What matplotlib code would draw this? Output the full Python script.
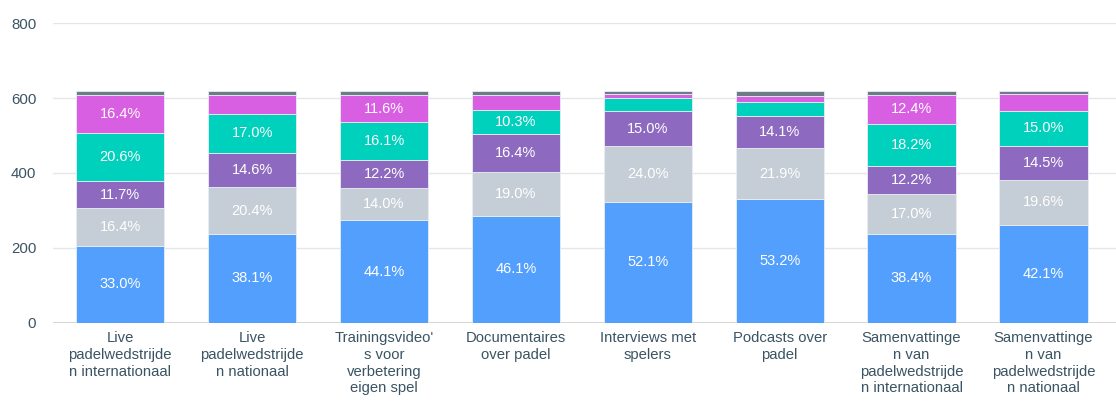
import numpy as np
import matplotlib.pyplot as plt

plt.rcParams['font.family'] = ['Liberation Sans', 'DejaVu Sans']

categories = [
    "Live\npadelwedstrijde\nn internationaal",
    "Live\npadelwedstrijde\nn nationaal",
    "Trainingsvideo'\ns voor\nverbetering\neigen spel",
    "Documentaires\nover padel",
    "Interviews met\nspelers",
    "Podcasts over\npadel",
    "Samenvattinge\nn van\npadelwedstrijde\nn internationaal",
    "Samenvattinge\nn van\npadelwedstrijde\nn nationaal",
]
total_n = 620

# percentage share per segment (bottom to top)
pct_blue = [33.0, 38.1, 44.1, 46.1, 52.1, 53.2, 38.4, 42.1]
pct_lightgray = [16.4, 20.4, 14.0, 19.0, 24.0, 21.9, 17.0, 19.6]
pct_purple = [11.7, 14.6, 12.2, 16.4, 15.0, 14.1, 12.2, 14.5]
pct_teal = [20.6, 17.0, 16.1, 10.3, 5.7, 6.0, 18.2, 15.0]
pct_magenta = [16.4, 8.0, 11.6, 6.2, 1.7, 2.3, 12.4, 7.2]
pct_darkgray = [1.9, 1.9, 2.0, 2.0, 1.5, 2.5, 1.8, 1.6]

series = [
    (pct_blue, "#529FFE"),
    (pct_lightgray, "#C5CED6"),
    (pct_purple, "#8D6ABF"),
    (pct_teal, "#00D1BD"),
    (pct_magenta, "#D95FE2"),
    (pct_darkgray, "#6B7C84"),
]

fig = plt.figure(figsize=(11.16, 4.01), dpi=100)
ax = fig.add_axes([53 / 1116, 78.3 / 401, 1063 / 1116, 299.4 / 401])

x = np.arange(len(categories))
bottom = np.zeros(len(categories))
for vals, color in series:
    counts = np.array(vals) / 100.0 * total_n
    ax.bar(x, counts, width=0.67, bottom=bottom, color=color,
           edgecolor="#e8eef5", linewidth=0.6, zorder=3)
    for xi, b, c, p in zip(x, bottom, counts, vals):
        if p >= 10:
            ax.text(xi, b + c / 2, f"{p:.1f}%", ha="center", va="center",
                    color="white", fontsize=10.5, zorder=4)
    bottom += counts

ax.set_xlim(-0.51, 7.55)
ax.set_ylim(0, 800)
ax.set_yticks([0, 200, 400, 600, 800])
ax.yaxis.grid(True, color="#e6e6e6", linewidth=1.0, zorder=0)
ax.axhline(0, color="#d6d6d6", linewidth=1.5, zorder=2)
for s in ax.spines.values():
    s.set_visible(False)
ax.tick_params(axis="y", length=0, pad=12, labelsize=10.8, labelcolor="#3a5463")
ax.tick_params(axis="x", length=0, pad=6, labelsize=10.7, labelcolor="#3a5463")
ax.set_xticks(x)
ax.set_xticklabels(categories, va="top", linespacing=1.25)

fig.savefig("out.png", dpi=100)
